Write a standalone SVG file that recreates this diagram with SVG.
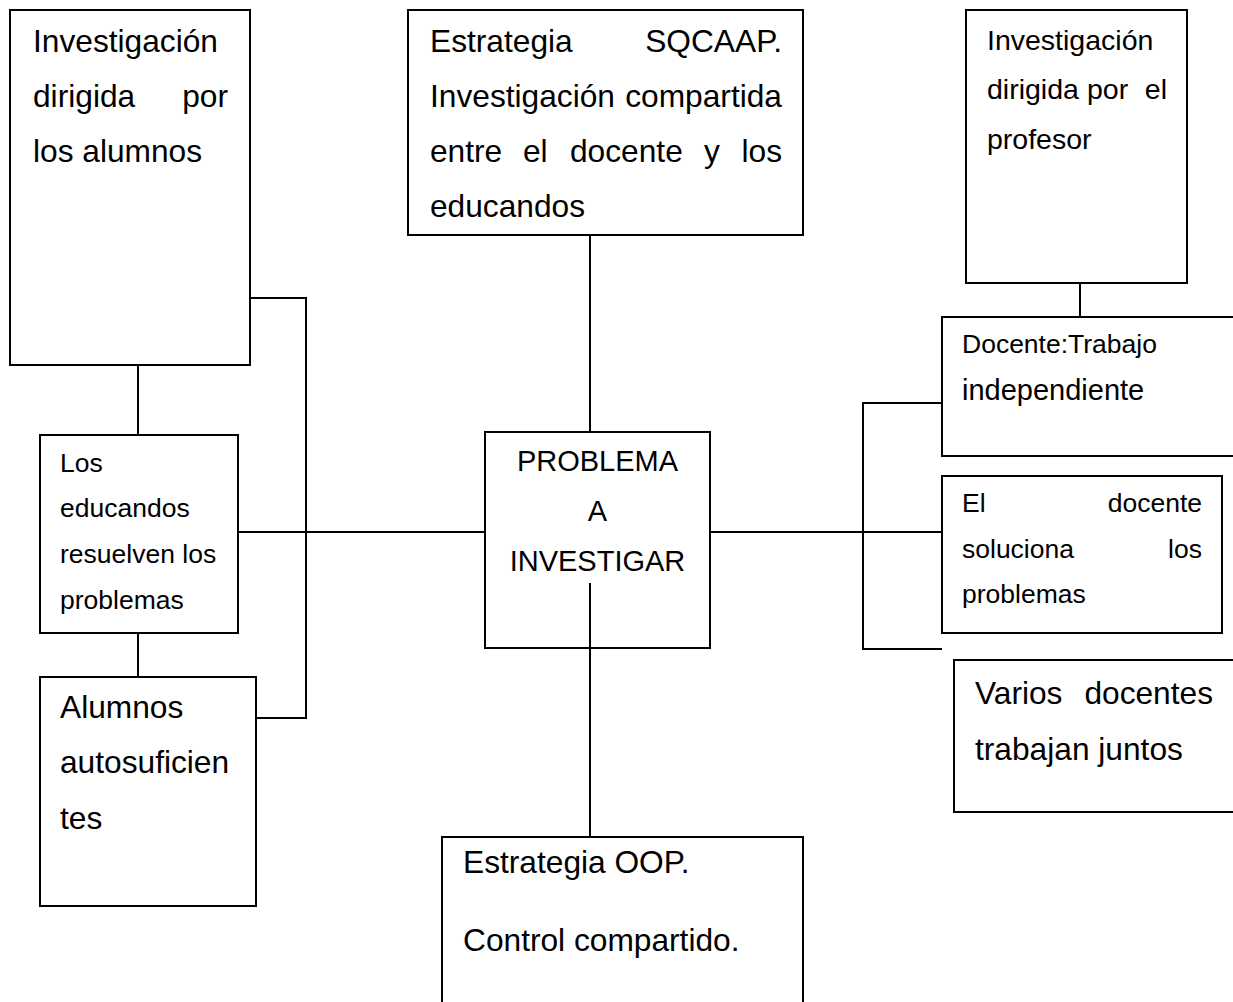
<svg xmlns="http://www.w3.org/2000/svg" width="1233" height="1002" viewBox="0 0 1233 1002">
<style>
.box{fill:#fff;stroke:#000;stroke-width:2}
.con{fill:none;stroke:#000;stroke-width:2}
text{font-family:"Liberation Sans",Arial,sans-serif;fill:#000}
.big{font-size:31.7px}
.mid{font-size:29px}
.sm{font-size:26.5px}
.rt{font-size:28.5px}
.end{text-anchor:end}
.mc{text-anchor:middle}
</style>
<rect width="1233" height="1002" fill="#fff"/>
<g id="connectors">
<line class="con" x1="138" y1="365" x2="138" y2="435"/>
<line class="con" x1="138" y1="633" x2="138" y2="677"/>
<polyline class="con" points="250,298 306,298 306,718 256,718"/>
<line class="con" x1="238" y1="532" x2="485" y2="532"/>
<line class="con" x1="590" y1="235" x2="590" y2="432"/>
<line class="con" x1="590" y1="583" x2="590" y2="837"/>
<line class="con" x1="710" y1="532" x2="942" y2="532"/>
<polyline class="con" points="942,403 863,403 863,649 942,649"/>
<line class="con" x1="1080" y1="283" x2="1080" y2="317"/>
</g>
<g id="n-alumnos-dirigida">
<rect class="box" x="10" y="10" width="240" height="355"/>
<text class="big" x="33" y="52">Investigación</text>
<text class="big" x="33" y="107">dirigida</text>
<text class="big end" x="228" y="107">por</text>
<text class="big" x="33" y="162">los alumnos</text>
</g>
<g id="n-sqcaap">
<rect class="box" x="408" y="10" width="395" height="225"/>
<text class="big" x="430" y="52">Estrategia</text>
<text class="big end" x="782" y="52">SQCAAP.</text>
<text class="big" x="430" y="107">Investigación</text>
<text class="big end" x="782" y="107">compartida</text>
<text class="big" y="162"><tspan x="430">entre</tspan><tspan x="523">el</tspan><tspan x="570">docente</tspan><tspan x="704">y</tspan></text>
<text class="big end" x="782" y="162">los</text>
<text class="big" x="430" y="217">educandos</text>
</g>
<g id="n-profesor">
<rect class="box" x="966" y="10" width="221" height="273"/>
<text class="rt" x="987" y="50">Investigación</text>
<text class="rt" x="987" y="99">dirigida</text>
<text class="rt" x="1087" y="99">por</text>
<text class="rt end" x="1167" y="99">el</text>
<text class="rt" x="987" y="149">profesor</text>
</g>
<g id="n-trabajo">
<rect class="box" x="942" y="317" width="300" height="139"/>
<text class="sm" x="962" y="353">Docente:Trabajo</text>
<text class="mid" x="962" y="400">independiente</text>
</g>
<g id="n-soluciona">
<rect class="box" x="942" y="476" width="280" height="157"/>
<text class="sm" x="962" y="512">El</text>
<text class="sm end" x="1202" y="512">docente</text>
<text class="sm" x="962" y="558">soluciona</text>
<text class="sm end" x="1202" y="558">los</text>
<text class="sm" x="962" y="603">problemas</text>
</g>
<g id="n-varios">
<rect class="box" x="954" y="660" width="290" height="152"/>
<text class="big" x="975" y="704">Varios</text>
<text class="big end" x="1213" y="704">docentes</text>
<text class="big" x="975" y="760">trabajan juntos</text>
</g>
<g id="n-problema">
<rect class="box" x="485" y="432" width="225" height="216"/>
<text class="mid mc" x="597.5" y="471">PROBLEMA</text>
<text class="mid mc" x="597.5" y="521">A</text>
<text class="mid mc" x="597.5" y="571">INVESTIGAR</text>
<line class="con" x1="590" y1="583" x2="590" y2="648"/>
</g>
<g id="n-resuelven">
<rect class="box" x="40" y="435" width="198" height="198"/>
<text class="sm" x="60" y="472">Los</text>
<text class="sm" x="60" y="517">educandos</text>
<text class="sm" x="60" y="563">resuelven los</text>
<text class="sm" x="60" y="609">problemas</text>
</g>
<g id="n-autosuficientes">
<rect class="box" x="40" y="677" width="216" height="229"/>
<text class="big" x="60" y="718">Alumnos</text>
<text class="big" x="60" y="773">autosuficien</text>
<text class="big" x="60" y="829">tes</text>
</g>
<g id="n-oop">
<rect class="box" x="442" y="837" width="361" height="180"/>
<text class="big" x="463" y="873">Estrategia OOP.</text>
<text class="big" x="463" y="951">Control compartido.</text>
</g>
</svg>
